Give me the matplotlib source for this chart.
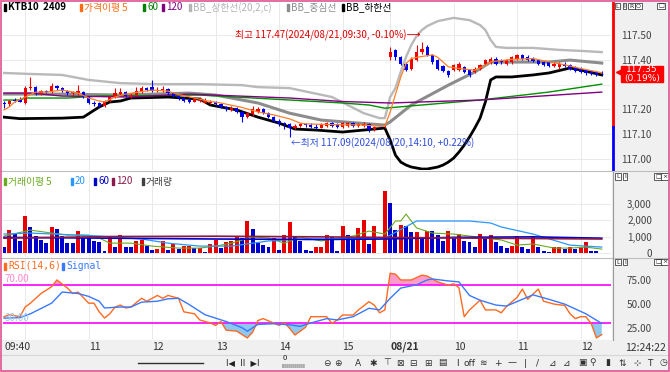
import numpy as np
import matplotlib
matplotlib.use("Agg")
import matplotlib.pyplot as plt
from matplotlib.patches import Rectangle
from matplotlib import transforms

plt.rcParams['font.family'] = ['Noto Sans CJK KR', 'DejaVu Sans']

# ---- KTB10 2409, 5-minute candles: 08/20 09:40 ... 08/21 12:20 ----
opens = [117.225, 117.220, 117.240, 117.240, 117.225, 117.285, 117.290, 117.268, 117.275, 117.270,
         117.295, 117.285, 117.275, 117.265, 117.265, 117.270, 117.250, 117.228, 117.225, 117.215,
         117.235, 117.250, 117.262, 117.270, 117.255, 117.260, 117.270, 117.285, 117.290, 117.275,
         117.278, 117.282, 117.265, 117.255, 117.245, 117.240, 117.232, 117.235, 117.228, 117.224,
         117.232, 117.220, 117.210, 117.198, 117.205, 117.190, 117.170, 117.180, 117.190, 117.200,
         117.185, 117.170, 117.155, 117.145, 117.140, 117.125, 117.135, 117.140, 117.138, 117.130,
         117.127, 117.135, 117.145, 117.140, 117.130, 117.135, 117.145, 117.135, 117.135, 117.140,
         117.120, 117.130, 117.128,
         117.410, 117.440, 117.410, 117.385, 117.365, 117.400, 117.430, 117.450, 117.420, 117.400,
         117.375, 117.355, 117.360, 117.360, 117.370, 117.360, 117.350, 117.365, 117.385, 117.390,
         117.405, 117.400, 117.385, 117.390, 117.405, 117.420, 117.410, 117.405, 117.400, 117.390,
         117.390, 117.375, 117.370, 117.385, 117.380, 117.370, 117.365, 117.360, 117.355, 117.350,
         117.352]
highs = [117.235, 117.240, 117.245, 117.250, 117.295, 117.330, 117.295, 117.280, 117.280, 117.305,
         117.300, 117.290, 117.280, 117.275, 117.300, 117.275, 117.255, 117.235, 117.230, 117.240,
         117.255, 117.285, 117.285, 117.275, 117.265, 117.290, 117.295, 117.290, 117.320, 117.290,
         117.295, 117.285, 117.270, 117.260, 117.250, 117.245, 117.250, 117.250, 117.245, 117.240,
         117.235, 117.225, 117.215, 117.215, 117.210, 117.195, 117.190, 117.215, 117.210, 117.205,
         117.190, 117.175, 117.160, 117.150, 117.145, 117.140, 117.145, 117.145, 117.145, 117.140,
         117.145, 117.150, 117.150, 117.145, 117.150, 117.150, 117.150, 117.145, 117.150, 117.145,
         117.135, 117.135, 117.140,
         117.450, 117.445, 117.415, 117.390, 117.410, 117.460, 117.470, 117.460, 117.425, 117.405,
         117.380, 117.360, 117.385, 117.390, 117.375, 117.365, 117.370, 117.385, 117.405, 117.410,
         117.410, 117.405, 117.405, 117.415, 117.425, 117.425, 117.420, 117.410, 117.405, 117.395,
         117.395, 117.390, 117.390, 117.390, 117.385, 117.375, 117.370, 117.365, 117.360, 117.355,
         117.355]
lows = [117.205, 117.215, 117.230, 117.230, 117.220, 117.280, 117.260, 117.260, 117.265, 117.265,
        117.280, 117.270, 117.260, 117.255, 117.260, 117.245, 117.220, 117.215, 117.210, 117.210,
        117.230, 117.245, 117.255, 117.250, 117.245, 117.255, 117.265, 117.275, 117.270, 117.270,
        117.270, 117.260, 117.250, 117.240, 117.230, 117.225, 117.230, 117.230, 117.225, 117.220,
        117.215, 117.205, 117.195, 117.195, 117.185, 117.150, 117.165, 117.175, 117.185, 117.180,
        117.165, 117.150, 117.135, 117.120, 117.090, 117.120, 117.130, 117.130, 117.125, 117.120,
        117.125, 117.130, 117.130, 117.125, 117.125, 117.130, 117.130, 117.130, 117.130, 117.110,
        117.115, 117.125, 117.125,
        117.400, 117.400, 117.380, 117.355, 117.360, 117.395, 117.425, 117.415, 117.385, 117.360,
        117.350, 117.330, 117.355, 117.355, 117.345, 117.330, 117.345, 117.360, 117.380, 117.385,
        117.380, 117.385, 117.380, 117.385, 117.400, 117.400, 117.395, 117.390, 117.380, 117.375,
        117.370, 117.370, 117.365, 117.370, 117.360, 117.350, 117.345, 117.340, 117.340, 117.335,
        117.340]
closes = [117.220, 117.235, 117.235, 117.232, 117.285, 117.290, 117.265, 117.275, 117.270, 117.295,
          117.285, 117.275, 117.265, 117.270, 117.275, 117.250, 117.225, 117.222, 117.215, 117.235,
          117.250, 117.265, 117.270, 117.255, 117.260, 117.275, 117.285, 117.280, 117.275, 117.280,
          117.282, 117.265, 117.255, 117.245, 117.235, 117.232, 117.242, 117.240, 117.236, 117.232,
          117.220, 117.210, 117.200, 117.205, 117.190, 117.170, 117.185, 117.200, 117.200, 117.185,
          117.170, 117.155, 117.145, 117.140, 117.125, 117.135, 117.140, 117.138, 117.130, 117.127,
          117.140, 117.145, 117.135, 117.130, 117.145, 117.145, 117.135, 117.140, 117.142, 117.120,
          117.130, 117.128, 117.130,
          117.430, 117.410, 117.385, 117.360, 117.405, 117.430, 117.445, 117.420, 117.390, 117.365,
          117.355, 117.340, 117.380, 117.385, 117.350, 117.340, 117.365, 117.380, 117.400, 117.405,
          117.385, 117.390, 117.400, 117.410, 117.420, 117.405, 117.400, 117.395, 117.385, 117.380,
          117.375, 117.385, 117.385, 117.375, 117.365, 117.355, 117.350, 117.345, 117.345, 117.340,
          117.350]

prev_close = 117.13
last_price = 117.35
last_pct = 0.19

# Bollinger band (20,2) and price moving averages, read at sampled candles
bb_up_idx = [0, 5, 11, 16, 22, 29, 37, 45, 48, 54, 62, 68, 71, 72, 73, 74, 75, 76, 77, 78, 79, 80,
             82, 85, 88, 90, 91, 92, 93, 95, 100, 105, 110, 113]
bb_up = [117.347, 117.343, 117.339, 117.319, 117.306, 117.302, 117.302, 117.298, 117.290, 117.286,
         117.250, 117.185, 117.165, 117.165, 117.250, 117.286, 117.351, 117.411, 117.460, 117.496,
         117.520, 117.536, 117.556, 117.569, 117.560, 117.540, 117.520, 117.480, 117.452, 117.448,
         117.448, 117.440, 117.435, 117.431]
bb_mid_idx = [0, 11, 22, 35, 40, 48, 54, 60, 67, 72, 73, 77, 84, 89, 92, 96, 103, 107, 113]
bb_mid = [117.262, 117.262, 117.258, 117.266, 117.258, 117.226, 117.185, 117.157, 117.145, 117.137,
          117.150, 117.218, 117.298, 117.351, 117.391, 117.391, 117.391, 117.399, 117.387]
bb_low_idx = [0, 3, 11, 15, 18, 20, 22, 24, 31, 37, 39, 44, 48, 52, 55, 59, 64, 68, 72, 73, 74, 75,
              76, 77, 78, 79, 80, 81, 82, 83, 84, 85, 86, 87, 88, 89, 90, 91, 92, 93, 96, 100, 103,
              107, 109, 113]
bb_low = [117.169, 117.163, 117.165, 117.169, 117.210, 117.230, 117.234, 117.246, 117.250, 117.242,
          117.218, 117.198, 117.169, 117.145, 117.121, 117.117, 117.109, 117.117, 117.125, 117.077,
          117.016, 116.988, 116.976, 116.968, 116.964, 116.960, 116.960, 116.964, 116.968, 116.976,
          116.988, 117.004, 117.028, 117.056, 117.089, 117.125, 117.165, 117.230, 117.319, 117.331,
          117.331, 117.339, 117.347, 117.367, 117.359, 117.339]
ma5_idx = [0, 1, 2, 4, 6, 8, 11, 12, 14, 16, 18, 19, 21, 23, 26, 28, 31, 33, 36, 38, 41, 45, 48, 51,
           54, 56, 57, 60, 64, 67, 70, 72, 73, 74, 75, 76, 77, 78, 81, 82, 84, 86, 89, 91, 92, 96,
           100, 103, 106, 109, 113]
ma5 = [117.198, 117.210, 117.230, 117.250, 117.270, 117.270, 117.278, 117.274, 117.266, 117.246,
       117.234, 117.230, 117.250, 117.262, 117.272, 117.278, 117.274, 117.260, 117.246, 117.236,
       117.226, 117.208, 117.190, 117.178, 117.162, 117.145, 117.142, 117.140, 117.138, 117.138,
       117.134, 117.132, 117.190, 117.260, 117.330, 117.385, 117.405, 117.410, 117.420, 117.410,
       117.372, 117.365, 117.358, 117.378, 117.392, 117.402, 117.405, 117.392, 117.380, 117.365,
       117.348]
ma60_idx = [0, 3, 4, 12, 18, 37, 54, 64, 69, 72, 73, 90, 103, 113]
ma60 = [117.238, 117.238, 117.246, 117.246, 117.254, 117.258, 117.238, 117.226, 117.218, 117.205,
        117.207, 117.238, 117.270, 117.302]
ma120_idx = [0, 5, 11, 24, 35, 54, 64, 73, 90, 113]
ma120 = [117.266, 117.266, 117.254, 117.250, 117.262, 117.246, 117.232, 117.226, 117.238, 117.270]

# volume (r = up bar, b = down bar)
vol_dir = ("brbbrbbbbr" "bbbbrbbbbb" "rbrbbrrbbr" "rbrbrrbrbr" "rbrrrbrbbb" "brbrrbbbbr" "rrb"
           "brbbrrbrrr" "bbrbbrbrbb" "brbrbbbrbr" "bbbrrbbrbb" "brrbrbrrbb" "b")
volumes = [350, 1400, 1230, 700, 2230, 1600, 1060, 760, 600, 1600,
           1470, 1060, 600, 600, 1350, 940, 900, 700, 650, 120,
           1020, 350, 1120, 350, 350, 700, 800, 400, 200, 250,
           700, 200, 550, 250, 400, 400, 300, 300, 80, 550,
           800, 280, 650, 750, 1050, 940, 1950, 1470, 600, 470,
           350, 940, 200, 1100, 1860, 1000, 700, 200, 150, 380,
           380, 1100, 1000,
           120, 1650, 1100, 900, 1530, 2000, 530, 1650, 0, 3760,
           3060, 1400, 1700, 1650, 1300, 1300, 1000, 1350, 1350, 1120,
           700, 1350, 1000, 1170, 750, 650, 350, 1170, 950, 1100,
           650, 400, 330, 400, 1020, 380, 230, 1020, 380, 100,
           50, 350, 380, 250, 350, 250, 350, 650, 150, 150,
           30]
vma5_idx = [0, 5, 9, 12, 16, 18, 20, 24, 28, 33, 37, 40, 43, 47, 50, 53, 56, 60, 62, 66, 69, 72, 74,
            75, 76, 78, 81, 85, 88, 91, 94, 97, 100, 104, 107, 110, 113]
vma5 = [1030, 1390, 1210, 1090, 1090, 910, 600, 600, 420, 300, 300, 420, 600, 970, 910, 600, 970,
        730, 850, 1030, 1330, 1150, 1940, 1940, 2360, 1520, 1210, 1150, 1030, 910, 790, 480, 550,
        300, 300, 360, 240]
vma20_idx = [0, 5, 18, 26, 31, 37, 43, 50, 56, 62, 72, 78, 88, 92, 94, 100, 107, 113]
vma20 = [1150, 1210, 1030, 850, 600, 420, 420, 730, 850, 850, 910, 1940, 1940, 1820, 1580, 1150,
         480, 360]
vma60_idx = [0, 20, 40, 60, 72, 85, 100, 113]
vma60 = [950, 900, 850, 820, 850, 950, 980, 900]
vma120_idx = [0, 20, 40, 60, 72, 90, 113]
vma120 = [900, 1000, 1020, 980, 950, 900, 850]

# RSI(14,6) and signal
rsi_idx = [0, 1, 3, 4, 5, 7, 9, 10, 12, 13, 14, 16, 17, 18, 19, 20, 21, 22, 23, 24, 26, 27, 29, 30,
           31, 33, 34, 36, 37, 39, 40, 41, 42, 44, 46, 47, 48, 49, 52, 53, 54, 55, 57, 58, 61, 62,
           63, 64, 66, 67, 69, 70, 71, 72, 73, 74, 75, 77, 79, 80, 82, 84, 85, 86, 87, 88, 90, 91,
           93, 94, 95, 97, 98, 99, 101, 102, 104, 106, 107, 108, 109, 110, 111, 112, 113]
rsi = [37, 39, 37, 47, 51, 61, 68, 75, 66.6, 61, 62.5, 51, 51, 42, 35.6, 40, 47, 49, 46, 47,
       56, 53, 59, 56, 59, 56, 42, 40, 33.6, 30.5, 28, 32, 23, 22, 15, 21, 33, 35, 28, 30.6,
       25, 18, 26, 37, 37, 30, 33.6, 38.7, 38.7, 44, 52.5, 49, 41, 44, 82, 81, 75, 75, 80, 79,
       73, 69.6, 71, 67, 37, 44, 54, 44, 44, 41, 47.6, 57, 65.6, 55, 65.6, 53, 50, 48.6, 40, 35,
       37, 37, 30, 15, 18.5]
sig_idx = [0, 3, 5, 9, 11, 14, 16, 18, 19, 22, 24, 26, 29, 31, 33, 35, 38, 42, 45, 46, 48, 51, 54,
           56, 58, 61, 63, 66, 69, 71, 73, 75, 78, 80, 81, 84, 86, 88, 90, 93, 95, 98, 100, 103,
           106, 110, 113]
sig = [35.5, 36, 40, 51, 62.5, 61, 58, 53, 46, 47, 47, 52, 53, 55.5, 56, 49.6, 39, 32, 25.6, 22,
       29, 29.7, 28.6, 27, 30.5, 35, 33.6, 37, 45.7, 44, 56, 66.6, 70, 75, 76, 74, 73, 59, 54, 49,
       48, 55, 59.6, 55, 50, 40, 30]

price_ticks = [117.0, 117.1, 117.2, 117.3, 117.4, 117.5]
vol_ticks = [0, 1000, 2000, 3000]
rsi_ticks = [25, 50, 75]
hour_idx = [4, 16, 28, 40, 52, 64, 73, 85, 97, 109]
hour_lbl = ['', '11', '12', '13', '14', '15', '08/21', '10', '11', '12']

W, H = 670, 372
fig = plt.figure(figsize=(W / 100, H / 100), dpi=100)


def fx(px):
    return px / W


def fy(py):
    return 1 - py / H


def frect(x0, y0, x1, y1, **kw):
    fig.add_artist(Rectangle((fx(x0), fy(y1)), fx(x1) - fx(x0), fy(y0) - fy(y1),
                             transform=fig.transFigure, **kw))


def fline(x0, y0, x1, y1, **kw):
    fig.add_artist(plt.Line2D([fx(x0), fx(x1)], [fy(y0), fy(y1)], transform=fig.transFigure, **kw))


frect(612, 0, 670, 340, color='#f0f0f0', zorder=-1)
frect(0, 340, 670, 372, color='#f0f0f0', zorder=-1)


def panel(top, bot):
    ax = fig.add_axes([fx(3), fy(bot), fx(611) - fx(3), fy(top) - fy(bot)])
    ax.set_xlim(-0.19, 114.75)
    for s in ax.spines.values():
        s.set_visible(False)
    ax.set_xticks(hour_idx)
    ax.tick_params(axis='x', length=0, labelbottom=False)
    ax.yaxis.tick_right()
    ax.tick_params(axis='y', length=0, pad=29.5, labelsize=7.2, labelcolor='#444444')
    ax.grid(True, color='#e6e6e6', lw=0.6)
    ax.set_axisbelow(True)
    return ax


def right_labels(ax, ticks, labels):
    ax.set_yticks(ticks, labels)
    for lab in ax.get_yticklabels():
        lab.set_horizontalalignment('right')


# ---------------- price panel ----------------
ax_p = panel(3, 170)
ax_p.set_ylim(116.956, 117.629)
# the 117.30 label sits under the current-price box
right_labels(ax_p, price_ticks,
             ['' if abs(t - 117.3) < 1e-9 else f"{t:.2f}" for t in price_ticks])

o, h, l, c = map(np.array, (opens, highs, lows, closes))
x = np.arange(len(c))
ccol = np.where(c >= o, '#f00000', '#0000f0')
ax_p.plot(bb_up_idx, bb_up, color='#b9b9b9', lw=1.7, zorder=2)
ax_p.plot(bb_mid_idx, bb_mid, color='#8c8c8c', lw=2.2, zorder=2)
ax_p.plot(bb_low_idx, bb_low, color='#000000', lw=2.0, zorder=2)
ax_p.plot(ma60_idx, ma60, color='#009000', lw=1.0, zorder=2)
ax_p.plot(ma120_idx, ma120, color='#800080', lw=1.0, zorder=2)
ax_p.vlines(x, l, h, colors=ccol, lw=0.8, zorder=3)
ax_p.bar(x, np.maximum(np.abs(c - o), 0.002), bottom=np.minimum(o, c), width=0.62,
         color=ccol, lw=0, zorder=3.1)
ax_p.plot(ma5_idx, ma5, color='#ff7f27', lw=0.9, zorder=4)

hi_i = int(np.argmax(h))
lo_i = int(np.argmin(l))
ax_p.annotate(f"최고 {h[hi_i]:.2f}(2024/08/21,09:30, -0.10%)⟶", xy=(hi_i, h[hi_i]),
              xytext=(-1, 5), textcoords='offset points', ha='right', va='center',
              color='#e00000', fontsize=7, zorder=6)
ax_p.annotate(f"←최저 {l[lo_i]:.2f}(2024/08/20,14:10, +0.22%)", xy=(lo_i, l[lo_i]),
              xytext=(1, -4.5), textcoords='offset points', ha='left', va='center',
              color='#2f4fdc', fontsize=7, zorder=6)

bt = transforms.blended_transform_factory(ax_p.transAxes, ax_p.transData)
y0, y1 = ax_p.get_ylim()
ax_p.plot([1.0025, 1.0025], [prev_close, y1], color='#ff0000', lw=2, transform=bt, clip_on=False)
ax_p.plot([1.0025, 1.0025], [y0, prev_close], color='#0000ff', lw=2, transform=bt, clip_on=False)
# current price tag
ax_p.add_patch(Rectangle((1.0165, last_price - 0.04), 0.069, 0.065, transform=bt,
                         color='#ff0000', clip_on=False, zorder=9))
ax_p.text(1.051, last_price - 0.008, f"{last_price:.2f}\n({last_pct:.2f}%)", transform=bt,
          ha='center', va='center', color='white', fontsize=6.6, linespacing=0.95,
          family=['DejaVu Sans'], zorder=10, clip_on=False)
ax_p.plot([1.013], [last_price], marker='<', color='#ff0000', ms=5, transform=bt, clip_on=False)

# ---------------- volume panel ----------------
ax_v = panel(173, 257)
ax_v.set_ylim(-240, 4850)
right_labels(ax_v, vol_ticks, [f"{t:,}" for t in vol_ticks])
vcol = ['#e80000' if d == 'r' else '#0000cc' for d in vol_dir]
ax_v.bar(x, volumes, width=0.75, color=vcol, lw=0, zorder=2)
ax_v.plot(vma5_idx, vma5, color='#6aaa1e', lw=0.8, zorder=3)
ax_v.plot(vma20_idx, vma20, color='#2a96ff', lw=0.9, zorder=3)
ax_v.plot(vma60_idx, vma60, color='#0000c8', lw=1.2, zorder=3)
ax_v.plot(vma120_idx, vma120, color='#8b1a4a', lw=1.2, zorder=3)

# ---------------- RSI panel ----------------
ax_r = panel(259, 339)
ax_r.set_ylim(13.9, 96.7)
right_labels(ax_r, rsi_ticks, [f"{t:.2f}" for t in rsi_ticks])
ax_r.grid(False, axis='y')
ri, rv = np.array(rsi_idx), np.array(rsi, dtype=float)
ax_r.fill_between(ri, rv, 70, where=rv > 70, interpolate=True, color='#ff9ccc', lw=0, zorder=1)
ax_r.fill_between(ri, rv, 30, where=rv < 30, interpolate=True, color='#8cc8f0', lw=0, zorder=1)
ax_r.axhline(70, color='#ff00ff', lw=1.2, zorder=2)
ax_r.axhline(30, color='#ff00ff', lw=1.2, zorder=2)
ax_r.plot(ri, rv, color='#ff6a20', lw=1.0, zorder=3)
ax_r.plot(sig_idx, sig, color='#3a78ff', lw=1.0, zorder=3)
rt = transforms.blended_transform_factory(ax_r.transAxes, ax_r.transData)
ax_r.text(0.003, 76, "70.00", transform=rt, color='#ff88cc', fontsize=7, va='center')
ax_r.text(0.003, 36, "30.00", transform=rt, color='#9cc8f0', fontsize=7, va='center')

ax_r.set_xticks(hour_idx, hour_lbl)
ax_r.set_xticks([0], ['09:40'], minor=True)
ax_r.tick_params(axis='x', which='both', length=0, labelbottom=True, pad=2, labelsize=7.5,
                 labelcolor='#333333')
for lab in ax_r.get_xticklabels() + ax_r.get_xticklabels(minor=True):
    lab.set_horizontalalignment('left')
    if lab.get_text() == '08/21':
        lab.set_fontweight('bold')

# ---------------- legends ----------------
def legend_item(px, py, label, color, **kw):
    frect(px, py - 3.5, px + 2, py + 3.5, color=color, zorder=5)
    fig.text(fx(px + 4), fy(py), label, color=color, fontsize=7, ha='left', va='center',
             zorder=6, **kw)


legend_item(4, 7.5, "KTB10  2409", '#000000', fontweight='bold')
legend_item(80, 7.5, "가격이평 5", '#ff6a13')
legend_item(143, 7.5, "60", '#008000')
legend_item(162, 7.5, "120", '#800080')
legend_item(189, 7.5, "BB_상한선(20,2,c)", '#b4b4b4')
legend_item(287, 7.5, "BB_중심선", '#8c8c8c')
legend_item(342, 7.5, "BB_하한선", '#000000')

legend_item(4, 181.5, "거래이평 5", '#6aaa1e')
legend_item(71, 181.5, "20", '#2a96ff')
legend_item(94, 181.5, "60", '#0000c8')
legend_item(112, 181.5, "120", '#8b1a4a')
legend_item(142, 181.5, "거래량", '#404040')

legend_item(4, 266, "RSI(14,6)", '#ff6a20', family=['DejaVu Sans Mono'])
legend_item(62, 266, "Signal", '#3a78ff', family=['DejaVu Sans Mono'])


def buttons(px, py, letters):
    for k, ch in enumerate(letters):
        fig.text(fx(px + k * 7), fy(py), ch, fontsize=4.5, ha='center', va='center',
                 family=['DejaVu Sans'], color='#202020', zorder=7,
                 bbox=dict(boxstyle='square,pad=0.15', fc='white', ec='#202020', lw=0.5))


buttons(617.5, 6, "LIRO")
buttons(661, 6, "□")
buttons(618, 176.5, "LI")
buttons(658, 176.5, "□×")
buttons(618, 262, "LI")
buttons(658, 262, "□×")

# separators and frame
fline(0, 171.5, 670, 171.5, color='#bdbdbd', lw=0.8)
fline(0, 258, 670, 258, color='#bdbdbd', lw=0.8)
fline(0, 355, 670, 355, color='#d6d6d6', lw=0.8)
fline(612.5, 172, 612.5, 340, color='#9a9a9a', lw=0.8)
fig.text(fx(625), fy(348), "12:24:22", fontsize=7.5, color='#333333', ha='left', va='center')

# toolbar
fline(138, 363, 203, 363, color='#303030', lw=1)
fig.text(fx(243), fy(363), "I◀  II  ▶I", fontsize=6, ha='center', va='center',
         family=['DejaVu Sans'], color='#202020')
fig.text(fx(285), fy(358.5), "0", fontsize=5.5, ha='center', va='center', color='#202020')
fig.text(fx(293), fy(366), "ıııııııııııı", fontsize=5, ha='center', va='center',
         family=['DejaVu Sans'], color='#404040')
tool_icons = ["⊖", "⊕", "A", "✱", "⊤", "⊠", "⊟", "⊞", "▤", "Ι", "off", "≋", "+", "—", "|", "/",
              "⊿", "⊿", "▣", "⚲", "▮", "⇅", "⊹", "T", "◷"]
tool_x = [327, 338, 358, 373, 387, 400, 413, 428, 442, 457, 470, 483, 498, 512, 525, 538, 553,
          567, 582, 593, 608, 622, 637, 650, 663]
for ic, tx in zip(tool_icons, tool_x):
    fig.text(fx(tx), fy(363), ic, fontsize=6.5, ha='center', va='center',
             family=['DejaVu Sans'], color='#303030')

fig.add_artist(Rectangle((0.0015, 0.003), 0.997, 0.994, fill=False, ec='#e0609a', lw=1.3,
                         transform=fig.transFigure, zorder=20))

fig.savefig("out.png", dpi=100)
